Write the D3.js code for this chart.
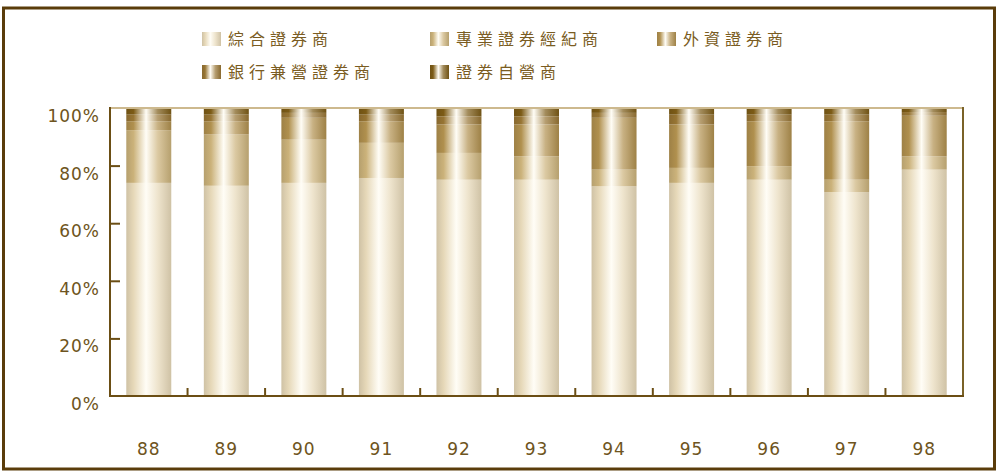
<!DOCTYPE html>
<html><head><meta charset="utf-8">
<script src="https://cdn.jsdelivr.net/npm/d3@7"></script>
<style>html,body{margin:0;padding:0;background:#fff;}svg{display:block;}</style>
</head><body>
<svg id="chart" width="998" height="473"></svg>
<script>
const years = ["88","89","90","91","92","93","94","95","96","97","98"];
const seriesNames = ["綜合證券商","專業證券經紀商","外資證券商","銀行兼營證券商","證券自營商"];
const s1 = [74.0, 73.0, 74.0, 75.7, 75.1, 75.1, 72.8, 74.0, 75.1, 70.8, 78.6];
const s2 = [18.3, 17.8, 15.0, 12.2,  9.3,  8.1,  5.8,  5.2,  4.7,  4.3,  4.6];
const s3 = [ 3.1,  4.6,  7.6,  7.5,  9.9, 11.1, 18.0, 15.1, 15.6, 20.3, 14.1];
const s4 = [ 2.3,  2.3,  1.7,  2.3,  2.8,  2.8,  1.7,  3.4,  2.3,  2.3,  1.3];
const s5 = [ 2.3,  2.3,  1.7,  2.3,  2.9,  2.9,  1.7,  2.3,  2.3,  2.3,  1.4];
const yTicks = [0, 20, 40, 60, 80, 100];
const colors = ["#e6d8b8","#cbb27a","#b0904e","#977534","#7c5b16"];

const seriesVals = [s1, s2, s3, s4, s5];
const rows = years.map((yr, i) => {
  const r = {year: yr};
  seriesNames.forEach((n, k) => r[n] = seriesVals[k][i]);
  return r;
});

const svg = d3.select("#chart");
const defs = svg.append("defs");
colors.forEach((c, k) => {
  const gr = defs.append("linearGradient").attr("id", "g" + k)
    .attr("x1", "0%").attr("x2", "100%").attr("y1", "0%").attr("y2", "0%");
  const dark = d3.color(c).darker(0.3);
  gr.append("stop").attr("offset", "0%").attr("stop-color", dark);
  gr.append("stop").attr("offset", "16%").attr("stop-color", c);
  gr.append("stop").attr("offset", "44%").attr("stop-color", "#fffdf6");
  gr.append("stop").attr("offset", "70%").attr("stop-color", d3.interpolateRgb(c, "#fff")(0.3));
  gr.append("stop").attr("offset", "100%").attr("stop-color", dark);
});

// outer frame
svg.append("rect").attr("x", 3.5).attr("y", 8).attr("width", 991).attr("height", 461)
  .attr("fill", "none").attr("stroke", "#5a3c0a").attr("stroke-width", 3);

const pLeft = 110, pRight = 963, pTop = 108, pBottom = 396;
const x = d3.scaleBand().domain(years).range([pLeft, pRight]).paddingInner(0.42).paddingOuter(0.21);
const y = d3.scaleLinear().domain([0, 100]).range([pBottom, pTop]);

const layers = d3.stack().keys(seriesNames)(rows);

const gBars = svg.append("g");
layers.forEach((layer, k) => {
  gBars.selectAll(null).data(layer).enter().append("rect")
    .attr("x", d => x(d.data.year))
    .attr("width", x.bandwidth())
    .attr("y", d => y(d[1]))
    .attr("height", d => y(d[0]) - y(d[1]))
    .attr("fill", "url(#g" + k + ")");
});

// plot frame
svg.append("line").attr("x1", pLeft).attr("x2", pRight).attr("y1", pTop).attr("y2", pTop)
  .attr("stroke", "#cdb98e").attr("stroke-width", 2);
svg.append("line").attr("x1", pRight).attr("x2", pRight).attr("y1", pTop - 1).attr("y2", pBottom)
  .attr("stroke", "#7a6228").attr("stroke-width", 2);

// y axis
const yAxis = d3.axisRight(y).tickValues(yTicks.filter(v => v > 0 && v < 100)).tickSize(10).tickFormat("");
const ya = svg.append("g").attr("transform", `translate(${pLeft},0)`).call(yAxis);
ya.select(".domain").remove();
ya.selectAll("line").attr("stroke", "#6b4e14").attr("stroke-width", 2);
svg.append("line").attr("x1", pLeft).attr("x2", pLeft).attr("y1", pTop - 1).attr("y2", pBottom + 1)
  .attr("stroke", "#6b4e14").attr("stroke-width", 2);
svg.append("g").selectAll("text").data(yTicks).enter().append("text")
  .attr("x", 100).attr("y", d => y(d) + 14)
  .attr("text-anchor", "end")
  .attr("font-family", "DejaVu Sans, sans-serif").attr("font-size", 17)
  .attr("letter-spacing", 1)
  .attr("fill", "#6e5420")
  .text(d => d + "%");

// x axis
svg.append("line").attr("x1", pLeft - 1).attr("x2", pRight + 1).attr("y1", pBottom).attr("y2", pBottom)
  .attr("stroke", "#6b4e14").attr("stroke-width", 2);
const boundaries = years.slice(1).map(yr => x(yr) - x.step() * x.paddingInner() / 2);
svg.append("g").selectAll("line").data(boundaries).enter().append("line")
  .attr("x1", d => d).attr("x2", d => d).attr("y1", pBottom).attr("y2", pBottom - 8)
  .attr("stroke", "#6b4e14").attr("stroke-width", 2);
svg.append("g").selectAll("text").data(years).enter().append("text")
  .attr("x", d => x(d) + x.bandwidth() / 2).attr("y", 455)
  .attr("text-anchor", "middle")
  .attr("font-family", "DejaVu Sans, sans-serif").attr("font-size", 17)
  .attr("letter-spacing", 1)
  .attr("fill", "#6e5420")
  .text(d => d);

// legend
const legendPos = [[202, 39], [430, 39], [657, 39], [202, 72], [430, 72]];
const lg = svg.append("g");
seriesNames.forEach((n, k) => {
  const [lx, ly] = legendPos[k];
  lg.append("rect").attr("x", lx).attr("y", ly - 7).attr("width", 19).attr("height", 14)
    .attr("fill", "url(#g" + k + ")");
  lg.append("text").attr("x", lx + 26).attr("y", ly + 6)
    .attr("font-family", "Noto Sans CJK TC, sans-serif").attr("font-size", 16)
    .attr("letter-spacing", 5)
    .attr("fill", "#7a5c22")
    .text(n);
});
</script>
</body></html>
